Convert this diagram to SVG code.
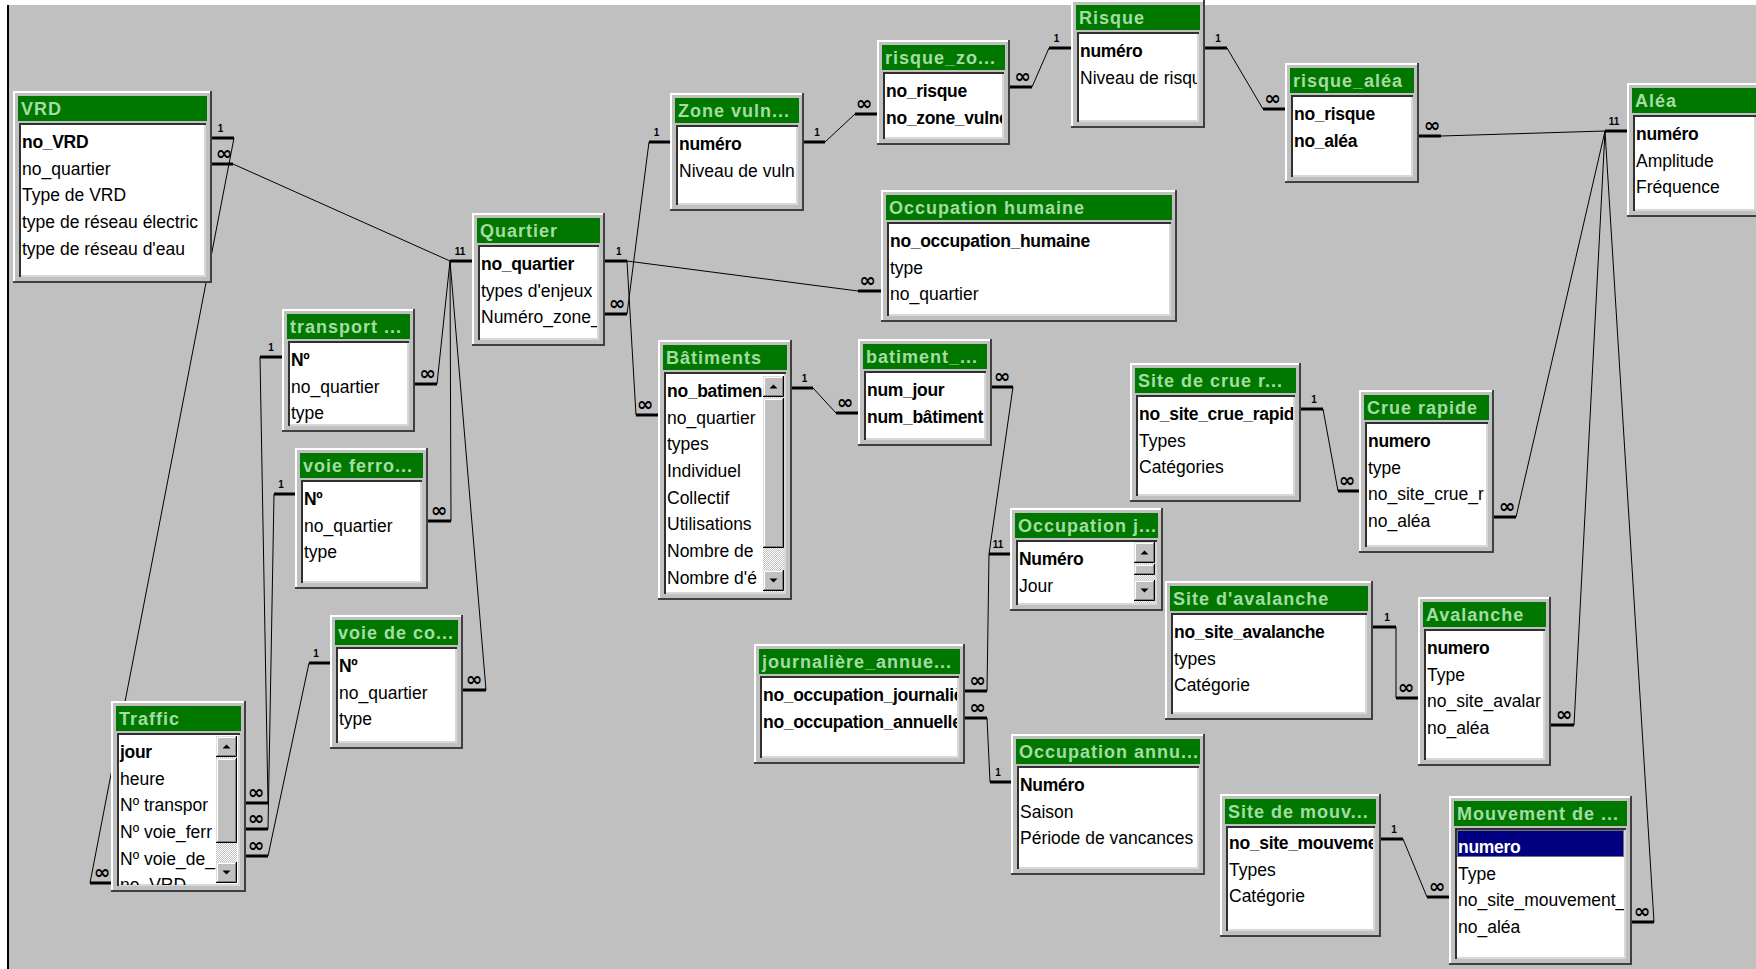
<svg xmlns="http://www.w3.org/2000/svg" xmlns:xlink="http://www.w3.org/1999/xlink" width="1756" height="969" viewBox="0 0 1756 969">
<style>
.fr{fill:#c0c0c0}
.hl{fill:none;stroke:#fff;stroke-width:2}
.sd{fill:none;stroke:#404040;stroke-width:2}
.tb{fill:#007800}
.tt{font-family:"Liberation Sans",Arial,sans-serif;font-weight:bold;font-size:18px;letter-spacing:1px;fill:#a4dca4}
.ls{fill:#fff}
.lb{fill:none;stroke:#303030;stroke-width:2}
.lr{fill:none;stroke:#d8d8d8;stroke-width:2}
.f{font-family:"Liberation Sans",Arial,sans-serif;font-size:17.5px;fill:#000}
.k{font-weight:bold;letter-spacing:-0.3px}
.cn path{fill:none;stroke:#000;stroke-width:1}
.st{fill:none;stroke:#000;stroke-width:3}
.c1{font-family:"Liberation Sans",Arial,sans-serif;font-weight:bold;font-size:10px;text-anchor:middle;fill:#000}
.ci{font-family:"DejaVu Sans",sans-serif;font-weight:bold;font-size:20px;text-anchor:middle;fill:#000}
.b1{fill:none;stroke:#dfdfdf}
.b2{fill:none;stroke:#fff}
.b3{fill:none;stroke:#000}
.b4{fill:none;stroke:#808080}
</style>
<defs>
<pattern id="dith" width="2" height="2" patternUnits="userSpaceOnUse"><rect width="2" height="2" fill="#c0c0c0"/><rect width="1" height="1" fill="#fff"/><rect x="1" y="1" width="1" height="1" fill="#fff"/></pattern>
<g id="sbup"><rect width="21" height="21" fill="#c0c0c0"/><path class="b1" d="M0.5,20V0.5H20"/><path class="b2" d="M1.5,19V1.5H19"/><path class="b3" d="M0,20.5H20.5V0"/><path class="b4" d="M1,19.5H19.5V1"/><path d="M6.5,12.5H14.5L10.5,8.5Z"/></g>
<g id="sbdn"><rect width="21" height="21" fill="#c0c0c0"/><path class="b1" d="M0.5,20V0.5H20"/><path class="b2" d="M1.5,19V1.5H19"/><path class="b3" d="M0,20.5H20.5V0"/><path class="b4" d="M1,19.5H19.5V1"/><path d="M6.5,8.5H14.5L10.5,12.5Z"/></g>
</defs>
<rect width="1756" height="969" fill="#fff"/>
<rect x="9" y="5" width="1747" height="964" fill="#c0c0c0"/>
<rect x="7" y="5" width="2" height="964" fill="#000"/>

<g id="connectors">
<g class="cn">
<path d="M234,138L90,883"/>
<path d="M233,164L450,261"/>
<path d="M437,384L450,261"/>
<path d="M451,521L450,261"/>
<path d="M486,690L450,261"/>
<path d="M260,357L268,803"/>
<path d="M274,494L268,829"/>
<path d="M309,663L268,856"/>
<path d="M627,261L858,291"/>
<path d="M627,314L649,142"/>
<path d="M627,261L636,415"/>
<path d="M825,142L855,114"/>
<path d="M1032,87L1049,48"/>
<path d="M1227,48L1263,109"/>
<path d="M1441,136L1605,131"/>
<path d="M1605,131L1516,517"/>
<path d="M1605,131L1574,725"/>
<path d="M1605,131L1654,922"/>
<path d="M813,388L836,413"/>
<path d="M1013,387L989,554"/>
<path d="M987,691L989,554"/>
<path d="M987,718L990,782"/>
<path d="M1323,409L1338,491"/>
<path d="M1396,627L1396,698"/>
<path d="M1403,839L1427,897"/>
</g>
<path class="st" d="M212,138H234M212,164H233M450,261H472M605,261H627M605,314H627M649,142H670M804,142H825M855,114H877M1010,87H1032M1049,48H1071M1205,48H1227M1263,109H1285M1419,136H1441M1605,131H1627M858,291H881M260,357H282M415,384H437M274,494H295M428,521H451M309,663H330M463,690H486M90,883H111M246,803H268M246,829H268M246,856H268M636,415H658M792,388H813M836,413H858M992,387H1013M989,554H1010M965,691H987M965,718H987M990,782H1011M1301,409H1323M1338,491H1359M1494,517H1516M1373,627H1396M1396,698H1418M1551,725H1574M1381,839H1403M1427,897H1449M1632,922H1654"/>
<g>
<text class="c1" x="220.5" y="131.5">1</text>
<text class="c1" x="457.5" y="254.5">1</text><text class="c1" x="462.5" y="254.5">1</text>
<text class="c1" x="618.7" y="254.5">1</text>
<text class="c1" x="656.5" y="135.5">1</text>
<text class="c1" x="817" y="135.5">1</text>
<text class="c1" x="1056.5" y="41.5">1</text>
<text class="c1" x="1218" y="41.5">1</text>
<text class="c1" x="1611.5" y="124.5">1</text><text class="c1" x="1616.5" y="124.5">1</text>
<text class="c1" x="271" y="350.5">1</text>
<text class="c1" x="281" y="487.5">1</text>
<text class="c1" x="316" y="656.5">1</text>
<text class="c1" x="804.5" y="381.5">1</text>
<text class="c1" x="995.5" y="547.5">1</text><text class="c1" x="1000.5" y="547.5">1</text>
<text class="c1" x="998" y="775.5">1</text>
<text class="c1" x="1314" y="402.5">1</text>
<text class="c1" x="1387" y="620.5">1</text>
<text class="c1" x="1394" y="832.5">1</text>
</g>
<g>
<text class="ci" x="224" y="160">∞</text>
<text class="ci" x="617" y="310">∞</text>
<text class="ci" x="864" y="110">∞</text>
<text class="ci" x="1022.5" y="83">∞</text>
<text class="ci" x="1272.5" y="105">∞</text>
<text class="ci" x="1432" y="132">∞</text>
<text class="ci" x="867.5" y="287">∞</text>
<text class="ci" x="427.5" y="380">∞</text>
<text class="ci" x="439" y="517">∞</text>
<text class="ci" x="474" y="686">∞</text>
<text class="ci" x="102" y="879">∞</text>
<text class="ci" x="256" y="799">∞</text>
<text class="ci" x="256" y="825">∞</text>
<text class="ci" x="256" y="852">∞</text>
<text class="ci" x="645" y="411">∞</text>
<text class="ci" x="845" y="409">∞</text>
<text class="ci" x="1002" y="383">∞</text>
<text class="ci" x="977.5" y="687">∞</text>
<text class="ci" x="977.5" y="714">∞</text>
<text class="ci" x="1347" y="487">∞</text>
<text class="ci" x="1507" y="513">∞</text>
<text class="ci" x="1406" y="694">∞</text>
<text class="ci" x="1564" y="721">∞</text>
<text class="ci" x="1437" y="893">∞</text>
<text class="ci" x="1642" y="918">∞</text>
</g>
</g>

<g id="t-vrd" transform="translate(13,91)">
<rect class="fr" width="199" height="192"/><path class="hl" d="M1,191V1H198"/><path class="sd" d="M0,191H198V0"/>
<rect class="tb" x="5" y="5" width="189" height="25"/><text class="tt" x="8" y="24">VRD</text>
<rect class="ls" x="6" y="32" width="187" height="154"/><path class="lr" d="M6,185H192V32"/><path class="lb" d="M7,186V33H193"/>
<svg x="8" y="33" width="183" height="152">
<text class="f k" x="1" y="24">no_VRD</text>
<text class="f" x="1" y="50.7">no_quartier</text>
<text class="f" x="1" y="77.3">Type de VRD</text>
<text class="f" x="1" y="104">type de réseau électric</text>
<text class="f" x="1" y="130.7">type de réseau d'eau</text>
</svg>
</g>

<g id="t-quartier" transform="translate(472,213)">
<rect class="fr" width="133" height="133"/><path class="hl" d="M1,132V1H132"/><path class="sd" d="M0,132H132V0"/>
<rect class="tb" x="5" y="5" width="123" height="25"/><text class="tt" x="8" y="24">Quartier</text>
<rect class="ls" x="6" y="32" width="121" height="95"/><path class="lr" d="M6,126H126V32"/><path class="lb" d="M7,127V33H127"/>
<svg x="8" y="33" width="117" height="93">
<text class="f k" x="1" y="24">no_quartier</text>
<text class="f" x="1" y="50.7">types d'enjeux</text>
<text class="f" x="1" y="77.3">Numéro_zone_</text>
</svg>
</g>

<g id="t-zone" transform="translate(670,93)">
<rect class="fr" width="134" height="118"/><path class="hl" d="M1,117V1H133"/><path class="sd" d="M0,117H133V0"/>
<rect class="tb" x="5" y="5" width="124" height="25"/><text class="tt" x="8" y="24">Zone vuln...</text>
<rect class="ls" x="6" y="32" width="122" height="80"/><path class="lr" d="M6,111H127V32"/><path class="lb" d="M7,112V33H128"/>
<svg x="8" y="33" width="118" height="78">
<text class="f k" x="1" y="24">numéro</text>
<text class="f" x="1" y="50.7">Niveau de vuln</text>
</svg>
</g>

<g id="t-risque_zo" transform="translate(877,40)">
<rect class="fr" width="133" height="105"/><path class="hl" d="M1,104V1H132"/><path class="sd" d="M0,104H132V0"/>
<rect class="tb" x="5" y="5" width="123" height="25"/><text class="tt" x="8" y="24">risque_zo...</text>
<rect class="ls" x="6" y="32" width="121" height="67"/><path class="lr" d="M6,98H126V32"/><path class="lb" d="M7,99V33H127"/>
<svg x="8" y="33" width="117" height="65">
<text class="f k" x="1" y="24">no_risque</text>
<text class="f k" x="1" y="50.7">no_zone_vulné</text>
</svg>
</g>

<g id="t-risque" transform="translate(1071,0)">
<rect class="fr" width="134" height="128"/><path class="hl" d="M1,127V1H133"/><path class="sd" d="M0,127H133V0"/>
<rect class="tb" x="5" y="5" width="124" height="25"/><text class="tt" x="8" y="24">Risque</text>
<rect class="ls" x="6" y="32" width="122" height="90"/><path class="lr" d="M6,121H127V32"/><path class="lb" d="M7,122V33H128"/>
<svg x="8" y="33" width="118" height="88">
<text class="f k" x="1" y="24">numéro</text>
<text class="f" x="1" y="50.7">Niveau de risqu</text>
</svg>
</g>

<g id="t-risque_alea" transform="translate(1285,63)">
<rect class="fr" width="134" height="120"/><path class="hl" d="M1,119V1H133"/><path class="sd" d="M0,119H133V0"/>
<rect class="tb" x="5" y="5" width="124" height="25"/><text class="tt" x="8" y="24">risque_aléa</text>
<rect class="ls" x="6" y="32" width="122" height="82"/><path class="lr" d="M6,113H127V32"/><path class="lb" d="M7,114V33H128"/>
<svg x="8" y="33" width="118" height="80">
<text class="f k" x="1" y="24">no_risque</text>
<text class="f k" x="1" y="50.7">no_aléa</text>
</svg>
</g>

<g id="t-alea" transform="translate(1627,83)">
<rect class="fr" width="135" height="134"/><path class="hl" d="M1,133V1H134"/><path class="sd" d="M0,133H134V0"/>
<rect class="tb" x="5" y="5" width="125" height="25"/><text class="tt" x="8" y="24">Aléa</text>
<rect class="ls" x="6" y="32" width="123" height="96"/><path class="lr" d="M6,127H128V32"/><path class="lb" d="M7,128V33H129"/>
<svg x="8" y="33" width="119" height="94">
<text class="f k" x="1" y="24">numéro</text>
<text class="f" x="1" y="50.7">Amplitude</text>
<text class="f" x="1" y="77.3">Fréquence</text>
</svg>
</g>

<g id="t-occ_humaine" transform="translate(881,190)">
<rect class="fr" width="296" height="132"/><path class="hl" d="M1,131V1H295"/><path class="sd" d="M0,131H295V0"/>
<rect class="tb" x="5" y="5" width="286" height="25"/><text class="tt" x="8" y="24">Occupation humaine</text>
<rect class="ls" x="6" y="32" width="284" height="94"/><path class="lr" d="M6,125H289V32"/><path class="lb" d="M7,126V33H290"/>
<svg x="8" y="33" width="280" height="92">
<text class="f k" x="1" y="24">no_occupation_humaine</text>
<text class="f" x="1" y="50.7">type</text>
<text class="f" x="1" y="77.3">no_quartier</text>
</svg>
</g>

<g id="t-transport" transform="translate(282,309)">
<rect class="fr" width="133" height="123"/><path class="hl" d="M1,122V1H132"/><path class="sd" d="M0,122H132V0"/>
<rect class="tb" x="5" y="5" width="123" height="25"/><text class="tt" x="8" y="24">transport ...</text>
<rect class="ls" x="6" y="32" width="121" height="85"/><path class="lr" d="M6,116H126V32"/><path class="lb" d="M7,117V33H127"/>
<svg x="8" y="33" width="117" height="83">
<text class="f k" x="1" y="24">Nº</text>
<text class="f" x="1" y="50.7">no_quartier</text>
<text class="f" x="1" y="77.3">type</text>
</svg>
</g>

<g id="t-voie_ferro" transform="translate(295,448)">
<rect class="fr" width="133" height="141"/><path class="hl" d="M1,140V1H132"/><path class="sd" d="M0,140H132V0"/>
<rect class="tb" x="5" y="5" width="123" height="25"/><text class="tt" x="8" y="24">voie ferro...</text>
<rect class="ls" x="6" y="32" width="121" height="103"/><path class="lr" d="M6,134H126V32"/><path class="lb" d="M7,135V33H127"/>
<svg x="8" y="33" width="117" height="101">
<text class="f k" x="1" y="24">Nº</text>
<text class="f" x="1" y="50.7">no_quartier</text>
<text class="f" x="1" y="77.3">type</text>
</svg>
</g>

<g id="t-voie_co" transform="translate(330,615)">
<rect class="fr" width="133" height="134"/><path class="hl" d="M1,133V1H132"/><path class="sd" d="M0,133H132V0"/>
<rect class="tb" x="5" y="5" width="123" height="25"/><text class="tt" x="8" y="24">voie de co...</text>
<rect class="ls" x="6" y="32" width="121" height="96"/><path class="lr" d="M6,127H126V32"/><path class="lb" d="M7,128V33H127"/>
<svg x="8" y="33" width="117" height="94">
<text class="f k" x="1" y="24">Nº</text>
<text class="f" x="1" y="50.7">no_quartier</text>
<text class="f" x="1" y="77.3">type</text>
</svg>
</g>

<g id="t-traffic" transform="translate(111,701)">
<rect class="fr" width="135" height="191"/><path class="hl" d="M1,190V1H134"/><path class="sd" d="M0,190H134V0"/>
<rect class="tb" x="5" y="5" width="125" height="25"/><text class="tt" x="8" y="24">Traffic</text>
<rect class="ls" x="6" y="32" width="123" height="153"/><path class="lr" d="M6,184H128V32"/><path class="lb" d="M7,185V33H129"/>
<svg x="8" y="33" width="97" height="151">
<text class="f k" x="1" y="24">jour</text>
<text class="f" x="1" y="50.7">heure</text>
<text class="f" x="1" y="77.3">Nº transpor</text>
<text class="f" x="1" y="104">Nº voie_ferr</text>
<text class="f" x="1" y="130.7">Nº voie_de_</text>
<text class="f" x="1" y="157.3">no_VRD</text>
</svg>
<rect x="105" y="35" width="21" height="147" fill="url(#dith)"/>
<use xlink:href="#sbup" x="105" y="35"/>
<g transform="translate(105,57)"><rect width="21" height="85" fill="#c0c0c0"/><path class="b1" d="M0.5,84V0.5H20"/><path class="b2" d="M1.5,83V1.5H19"/><path class="b3" d="M0,84.5H20.5V0"/><path class="b4" d="M1,83.5H19.5V1"/></g>
<use xlink:href="#sbdn" x="105" y="161"/>
</g>

<g id="t-batiments" transform="translate(658,340)">
<rect class="fr" width="134" height="260"/><path class="hl" d="M1,259V1H133"/><path class="sd" d="M0,259H133V0"/>
<rect class="tb" x="5" y="5" width="124" height="25"/><text class="tt" x="8" y="24">Bâtiments</text>
<rect class="ls" x="6" y="32" width="122" height="222"/><path class="lr" d="M6,253H127V32"/><path class="lb" d="M7,254V33H128"/>
<svg x="8" y="33" width="97" height="220">
<text class="f k" x="1" y="24">no_batimen</text>
<text class="f" x="1" y="50.7">no_quartier</text>
<text class="f" x="1" y="77.3">types</text>
<text class="f" x="1" y="104">Individuel</text>
<text class="f" x="1" y="130.7">Collectif</text>
<text class="f" x="1" y="157.3">Utilisations</text>
<text class="f" x="1" y="184">Nombre de</text>
<text class="f" x="1" y="210.7">Nombre d'é</text>
</svg>
<rect x="105" y="36" width="21" height="216" fill="url(#dith)"/>
<use xlink:href="#sbup" x="105" y="36"/>
<g transform="translate(105,58)"><rect width="21" height="150" fill="#c0c0c0"/><path class="b1" d="M0.5,149V0.5H20"/><path class="b2" d="M1.5,148V1.5H19"/><path class="b3" d="M0,149.5H20.5V0"/><path class="b4" d="M1,148.5H19.5V1"/></g>
<use xlink:href="#sbdn" x="105" y="230"/>
</g>

<g id="t-batiment_jour" transform="translate(858,339)">
<rect class="fr" width="134" height="107"/><path class="hl" d="M1,106V1H133"/><path class="sd" d="M0,106H133V0"/>
<rect class="tb" x="5" y="5" width="124" height="25"/><text class="tt" x="8" y="24">batiment_...</text>
<rect class="ls" x="6" y="32" width="122" height="69"/><path class="lr" d="M6,100H127V32"/><path class="lb" d="M7,101V33H128"/>
<svg x="8" y="33" width="118" height="67">
<text class="f k" x="1" y="24">num_jour</text>
<text class="f k" x="1" y="50.7">num_bâtiment</text>
</svg>
</g>

<g id="t-site_crue" transform="translate(1130,363)">
<rect class="fr" width="171" height="139"/><path class="hl" d="M1,138V1H170"/><path class="sd" d="M0,138H170V0"/>
<rect class="tb" x="5" y="5" width="161" height="25"/><text class="tt" x="8" y="24">Site de crue r...</text>
<rect class="ls" x="6" y="32" width="159" height="101"/><path class="lr" d="M6,132H164V32"/><path class="lb" d="M7,133V33H165"/>
<svg x="8" y="33" width="155" height="99">
<text class="f k" x="1" y="24">no_site_crue_rapid</text>
<text class="f" x="1" y="50.7">Types</text>
<text class="f" x="1" y="77.3">Catégories</text>
</svg>
</g>

<g id="t-occ_jour" transform="translate(1010,508)">
<rect class="fr" width="153" height="103"/><path class="hl" d="M1,102V1H152"/><path class="sd" d="M0,102H152V0"/>
<rect class="tb" x="5" y="5" width="143" height="25"/><text class="tt" x="8" y="24">Occupation j...</text>
<rect class="ls" x="6" y="32" width="141" height="65"/><path class="lr" d="M6,96H146V32"/><path class="lb" d="M7,97V33H147"/>
<svg x="8" y="33" width="116" height="63">
<text class="f k" x="1" y="24">Numéro</text>
<text class="f" x="1" y="50.7">Jour</text>
</svg>
<rect x="124" y="34" width="21" height="61" fill="url(#dith)"/>
<use xlink:href="#sbup" x="124" y="34"/>
<g transform="translate(124,56)"><rect width="21" height="11" fill="#c0c0c0"/><path class="b1" d="M0.5,10V0.5H20"/><path class="b2" d="M1.5,9V1.5H19"/><path class="b3" d="M0,10.5H20.5V0"/><path class="b4" d="M1,9.5H19.5V1"/></g>
<use xlink:href="#sbdn" x="124" y="72"/>
</g>

<g id="t-crue_rapide" transform="translate(1359,390)">
<rect class="fr" width="135" height="163"/><path class="hl" d="M1,162V1H134"/><path class="sd" d="M0,162H134V0"/>
<rect class="tb" x="5" y="5" width="125" height="25"/><text class="tt" x="8" y="24">Crue rapide</text>
<rect class="ls" x="6" y="32" width="123" height="125"/><path class="lr" d="M6,156H128V32"/><path class="lb" d="M7,157V33H129"/>
<svg x="8" y="33" width="119" height="123">
<text class="f k" x="1" y="24">numero</text>
<text class="f" x="1" y="50.7">type</text>
<text class="f" x="1" y="77.3">no_site_crue_r</text>
<text class="f" x="1" y="104">no_aléa</text>
</svg>
</g>

<g id="t-site_avalanche" transform="translate(1165,581)">
<rect class="fr" width="208" height="139"/><path class="hl" d="M1,138V1H207"/><path class="sd" d="M0,138H207V0"/>
<rect class="tb" x="5" y="5" width="198" height="25"/><text class="tt" x="8" y="24">Site d'avalanche</text>
<rect class="ls" x="6" y="32" width="196" height="101"/><path class="lr" d="M6,132H201V32"/><path class="lb" d="M7,133V33H202"/>
<svg x="8" y="33" width="192" height="99">
<text class="f k" x="1" y="24">no_site_avalanche</text>
<text class="f" x="1" y="50.7">types</text>
<text class="f" x="1" y="77.3">Catégorie</text>
</svg>
</g>

<g id="t-avalanche" transform="translate(1418,597)">
<rect class="fr" width="133" height="169"/><path class="hl" d="M1,168V1H132"/><path class="sd" d="M0,168H132V0"/>
<rect class="tb" x="5" y="5" width="123" height="25"/><text class="tt" x="8" y="24">Avalanche</text>
<rect class="ls" x="6" y="32" width="121" height="131"/><path class="lr" d="M6,162H126V32"/><path class="lb" d="M7,163V33H127"/>
<svg x="8" y="33" width="117" height="129">
<text class="f k" x="1" y="24">numero</text>
<text class="f" x="1" y="50.7">Type</text>
<text class="f" x="1" y="77.3">no_site_avalar</text>
<text class="f" x="1" y="104">no_aléa</text>
</svg>
</g>

<g id="t-mouvement" transform="translate(1449,796)">
<rect class="fr" width="183" height="169"/><path class="hl" d="M1,168V1H182"/><path class="sd" d="M0,168H182V0"/>
<rect class="tb" x="5" y="5" width="173" height="25"/><text class="tt" x="8" y="24">Mouvement de ...</text>
<rect class="ls" x="6" y="32" width="171" height="131"/><path class="lr" d="M6,162H176V32"/><path class="lb" d="M7,163V33H177"/>
<svg x="8" y="33" width="167" height="129">
<rect x="0" y="1" width="167" height="27" fill="#000080"/>
<rect x="0.5" y="1.5" width="166" height="26" fill="none" stroke="#e0e080" stroke-dasharray="1,1"/>
<text class="f k" x="1" y="24" style="fill:#fff">numero</text>
<text class="f" x="1" y="50.7">Type</text>
<text class="f" x="1" y="77.3">no_site_mouvement_</text>
<text class="f" x="1" y="104">no_aléa</text>
</svg>
</g>

<g id="t-site_mouv" transform="translate(1220,794)">
<rect class="fr" width="161" height="143"/><path class="hl" d="M1,142V1H160"/><path class="sd" d="M0,142H160V0"/>
<rect class="tb" x="5" y="5" width="151" height="25"/><text class="tt" x="8" y="24">Site de mouv...</text>
<rect class="ls" x="6" y="32" width="149" height="105"/><path class="lr" d="M6,136H154V32"/><path class="lb" d="M7,137V33H155"/>
<svg x="8" y="33" width="145" height="103">
<text class="f k" x="1" y="22">no_site_mouveme</text>
<text class="f" x="1" y="48.7">Types</text>
<text class="f" x="1" y="75.3">Catégorie</text>
</svg>
</g>

<g id="t-occ_annu" transform="translate(1011,734)">
<rect class="fr" width="194" height="141"/><path class="hl" d="M1,140V1H193"/><path class="sd" d="M0,140H193V0"/>
<rect class="tb" x="5" y="5" width="184" height="25"/><text class="tt" x="8" y="24">Occupation annu...</text>
<rect class="ls" x="6" y="32" width="182" height="103"/><path class="lr" d="M6,134H187V32"/><path class="lb" d="M7,135V33H188"/>
<svg x="8" y="33" width="178" height="101">
<text class="f k" x="1" y="24">Numéro</text>
<text class="f" x="1" y="50.7">Saison</text>
<text class="f" x="1" y="77.3">Période de vancances</text>
</svg>
</g>

<g id="t-journaliere" transform="translate(754,644)">
<rect class="fr" width="211" height="120"/><path class="hl" d="M1,119V1H210"/><path class="sd" d="M0,119H210V0"/>
<rect class="tb" x="5" y="5" width="201" height="25"/><text class="tt" x="8" y="24">journalière_annue...</text>
<rect class="ls" x="6" y="32" width="199" height="82"/><path class="lr" d="M6,113H204V32"/><path class="lb" d="M7,114V33H205"/>
<svg x="8" y="33" width="195" height="80">
<text class="f k" x="1" y="24">no_occupation_journaliè</text>
<text class="f k" x="1" y="50.7">no_occupation_annuelle</text>
</svg>
</g>
</svg>
